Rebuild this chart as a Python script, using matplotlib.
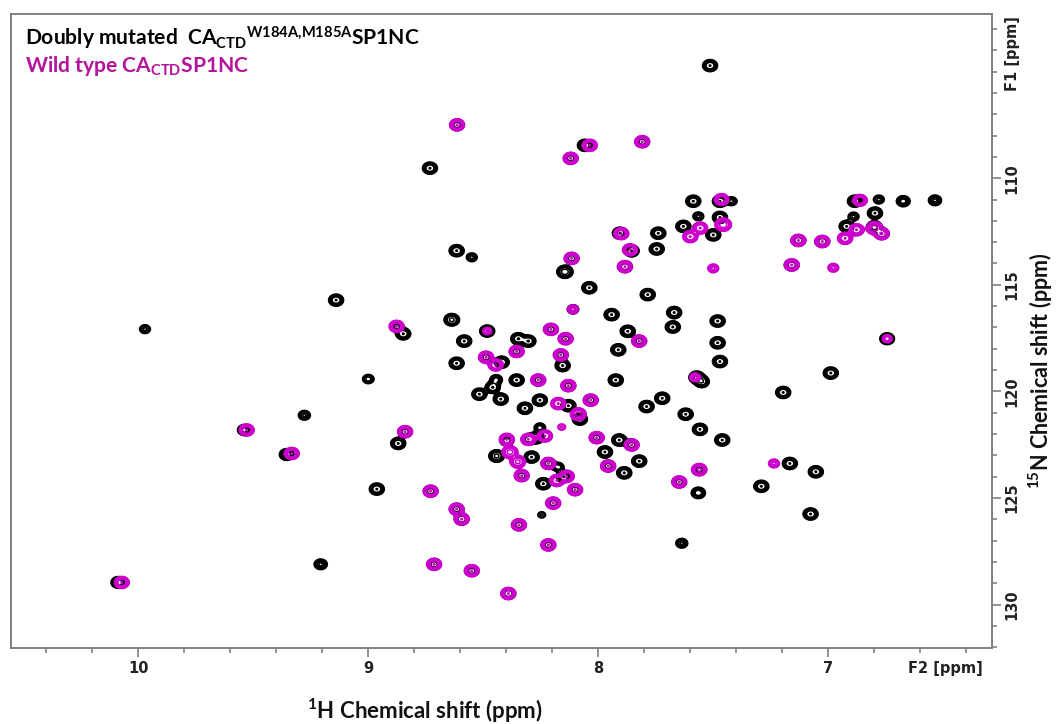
import numpy as np
import matplotlib
matplotlib.use("Agg")
import matplotlib.pyplot as plt
from matplotlib.ticker import FixedLocator

# ---- peak tables: 1H shift (ppm), 15N shift (ppm), relative intensity ----
mut_h = [7.514, 8.614, 8.058, 8.12, 7.809, 8.732, 7.587, 7.471, 7.471, 7.50,
         7.42, 7.565, 7.63, 7.739, 7.746, 7.906, 7.855, 7.884, 8.145, 8.116,
         8.616, 8.55, 8.039, 7.785, 6.884, 6.78, 6.674, 6.536, 6.797, 6.92,
         6.80, 6.768, 6.89, 7.13, 7.026, 7.159, 9.14, 8.11, 7.942, 7.67,
         8.637, 8.848, 7.872, 7.676, 8.483, 8.206, 8.142, 8.583, 8.348, 8.304,
         7.822, 8.355, 7.913, 8.488, 8.42, 8.616, 8.163, 8.155, 7.572, 7.55,
         9.0, 8.444, 8.459, 8.355, 8.261, 7.924, 8.13, 8.517, 8.424, 8.254,
         8.319, 8.13, 8.033, 8.08, 7.722, 7.79, 7.62, 9.278, 9.539, 8.84,
         8.87, 8.254, 8.007, 7.909, 7.855, 8.268, 8.398, 8.442, 8.29, 8.304,
         7.971, 7.822, 8.217, 7.957, 7.887, 8.333, 8.174, 8.15, 8.239, 8.101,
         7.648, 8.963, 8.729, 8.196, 8.616, 8.594, 8.246, 7.481, 7.481, 7.471,
         6.744, 6.989, 7.196, 7.558, 7.461, 7.561, 7.565, 7.167, 7.054, 7.291,
         7.077, 8.345, 8.217, 7.637, 8.714, 8.55, 8.391, 9.355, 9.207, 10.087,
         9.971, 8.877]
mut_n = [104.72, 107.5, 108.46, 109.07, 108.29, 109.53, 111.08, 111.08, 111.84, 112.66,
         111.08, 111.79, 112.26, 112.58, 113.32, 112.58, 113.41, 114.15, 114.39, 113.76,
         113.4, 113.71, 115.14, 115.46, 111.08, 111.0, 111.08, 111.04, 111.64, 112.26,
         112.3, 112.6, 111.8, 112.92, 112.97, 114.07, 115.72, 116.15, 116.4, 116.3,
         116.64, 117.3, 117.18, 116.98, 117.17, 117.09, 117.53, 117.64, 117.53, 117.64,
         117.64, 118.13, 118.05, 118.4, 118.63, 118.68, 118.29, 118.79, 119.34, 119.54,
         119.42, 119.45, 119.81, 119.47, 119.47, 119.47, 119.73, 120.13, 120.36, 120.41,
         120.79, 120.67, 120.41, 121.3, 120.32, 120.71, 121.07, 121.12, 121.81, 121.89,
         122.44, 121.70, 122.17, 122.28, 122.51, 122.17, 122.3, 123.03, 123.08, 122.25,
         122.84, 123.27, 123.38, 123.5, 123.82, 123.95, 123.55, 124.0, 124.33, 124.61,
         124.25, 124.58, 124.68, 125.24, 125.52, 125.99, 125.79, 116.7, 117.72, 118.6,
         117.53, 119.14, 120.05, 121.78, 122.28, 123.67, 124.76, 123.38, 123.77, 124.45,
         125.75, 126.26, 127.2, 127.12, 128.11, 128.41, 129.48, 122.96, 128.11, 128.96,
         117.08, 116.95]
mut_i = [1.0, 0.8, 1.0, 0.8, 0.8, 1.0, 1.0, 1.0, 1.0, 1.0,
         0.35, 0.35, 1.0, 1.0, 1.0, 1.0, 1.0, 0.9, 1.5, 0.8,
         1.0, 0.35, 1.0, 1.0, 1.0, 0.35, 0.7, 0.6, 1.0, 1.0,
         1.3, 1.0, 0.35, 0.9, 0.9, 0.9, 1.0, 0.4, 1.0, 1.0,
         1.2, 1.0, 1.0, 1.0, 1.0, 0.8, 0.8, 1.0, 1.0, 1.0,
         0.8, 0.8, 1.0, 0.8, 1.0, 1.0, 0.8, 1.0, 1.2, 1.0,
         0.4, 0.5, 1.0, 1.0, 0.8, 1.0, 0.8, 1.0, 1.0, 1.0,
         1.0, 1.0, 0.8, 1.0, 1.0, 1.0, 1.0, 0.45, 0.7, 0.8,
         1.0, 0.4, 0.8, 1.0, 0.8, 1.0, 0.8, 1.2, 1.0, 0.8,
         1.0, 1.0, 0.8, 0.8, 1.0, 0.8, 0.4, 1.0, 1.0, 0.8,
         0.8, 1.0, 0.8, 0.8, 0.8, 0.9, 0.2, 1.0, 1.0, 1.0,
         0.9, 1.0, 1.0, 1.0, 1.0, 0.8, 0.8, 1.0, 1.0, 1.0,
         1.0, 0.8, 0.8, 0.45, 0.8, 0.8, 0.9, 0.9, 0.6, 0.9,
         0.35, 0.7]

wt_h = [8.614, 8.037, 8.12, 7.809, 7.464, 7.457, 7.60, 7.557, 7.90, 7.862,
        7.884, 7.50, 8.116, 6.862, 6.877, 6.927, 6.80, 6.768, 7.13, 7.026,
        7.159, 6.978, 8.11, 8.877, 8.483, 8.206, 8.142, 7.822, 8.355, 8.488,
        8.446, 8.163, 7.579, 8.261, 8.13, 8.174, 8.033, 8.087, 9.529, 8.84,
        8.159, 8.007, 7.855, 8.232, 8.398, 8.384, 8.35, 8.304, 8.217, 7.957,
        8.333, 8.137, 8.101, 8.18, 7.648, 8.729, 8.196, 8.616, 8.594, 8.345,
        8.217, 8.714, 8.55, 8.391, 9.333, 10.072, 7.561, 7.236, 6.744]
wt_n = [107.5, 108.46, 109.07, 108.29, 111.0, 112.18, 112.74, 112.34, 112.6, 113.36,
        114.15, 114.23, 113.76, 111.04, 112.42, 112.82, 112.34, 112.6, 112.92, 112.97,
        114.07, 114.2, 116.15, 116.95, 117.17, 117.09, 117.53, 117.64, 118.13, 118.4,
        118.76, 118.29, 119.34, 119.47, 119.73, 120.57, 120.41, 121.07, 121.81, 121.89,
        121.67, 122.17, 122.51, 122.09, 122.25, 122.85, 123.3, 122.25, 123.38, 123.5,
        123.95, 123.98, 124.61, 124.18, 124.25, 124.68, 125.24, 125.52, 125.99, 126.26,
        127.2, 128.11, 128.41, 129.48, 122.91, 128.96, 123.67, 123.38, 117.53]
wt_i = [1.0, 1.0, 1.0, 1.0, 0.9, 1.6, 1.0, 1.0, 1.0, 1.0,
        1.0, 0.35, 1.0, 0.9, 1.0, 1.0, 1.4, 1.0, 1.0, 1.0,
        1.0, 0.35, 0.35, 1.0, 0.25, 1.0, 1.0, 1.0, 1.0, 1.0,
        1.0, 1.0, 0.35, 1.0, 1.0, 1.0, 1.0, 1.3, 1.0, 1.0,
        0.2, 1.0, 1.0, 1.0, 1.0, 1.3, 1.2, 1.0, 1.0, 1.0,
        1.0, 1.0, 1.0, 1.0, 1.0, 1.0, 1.0, 1.0, 1.0, 1.0,
        1.0, 1.0, 1.0, 1.0, 1.0, 1.0, 1.1, 0.35, 0.3]

# ---- spectral window ----
H_LIM = (10.555, 6.288)
N_LIM = (132.02, 102.3)
SIG_H, SIG_N = 0.0155, 0.135

h_axis = np.linspace(6.25, 10.6, 2000)
n_axis = np.linspace(102.0, 132.4, 1300)
dh = h_axis[1] - h_axis[0]
dn = n_axis[1] - n_axis[0]


def spectrum(hs, ns, amps):
    """Sum of 2D Gaussian lineshapes on the (N, H) grid."""
    z = np.zeros((n_axis.size, h_axis.size))
    for h, n, a in zip(hs, ns, amps):
        i0 = max(int((h - 6 * SIG_H - h_axis[0]) / dh), 0)
        i1 = min(int((h + 6 * SIG_H - h_axis[0]) / dh) + 2, h_axis.size)
        j0 = max(int((n - 6 * SIG_N - n_axis[0]) / dn), 0)
        j1 = min(int((n + 6 * SIG_N - n_axis[0]) / dn) + 2, n_axis.size)
        gx = np.exp(-0.5 * ((h_axis[i0:i1] - h) / SIG_H) ** 2)
        gy = np.exp(-0.5 * ((n_axis[j0:j1] - n) / SIG_N) ** 2)
        z[j0:j1, i0:i1] += a * np.outer(gy, gx)
    return z


z_mut = spectrum(mut_h, mut_n, mut_i)
z_wt = spectrum(wt_h, wt_n, wt_i)
levels = np.append(0.11 * 1.3 ** np.arange(7), 0.97)

plt.rcParams['mathtext.fontset'] = 'custom'
plt.rcParams['mathtext.rm'] = 'Lato:bold'
plt.rcParams['mathtext.it'] = 'Lato:bold'
plt.rcParams['mathtext.bf'] = 'Lato:bold'

W, H = 1056, 724
fig = plt.figure(figsize=(W / 100, H / 100), dpi=100)
fig.patch.set_facecolor('white')
left, right, top, bottom = 10.7, 992, 14, 647.7
ax = fig.add_axes([left / W, 1 - bottom / H, (right - left) / W, (bottom - top) / H])

ax.contour(h_axis, n_axis, z_mut, levels=levels, colors='black', linewidths=1.1, zorder=2)
ax.contour(h_axis, n_axis, z_wt, levels=levels, colors='#cc00cc', linewidths=1.1, zorder=3)

ax.set_xlim(*H_LIM)
ax.set_ylim(*N_LIM)

frame_col = '#808080'
for s in ax.spines.values():
    s.set_color(frame_col)
    s.set_linewidth(1.4)

ax.xaxis.set_major_locator(FixedLocator([10, 9, 8, 7]))
ax.xaxis.set_minor_locator(FixedLocator(np.round(np.arange(6.4, 10.41, 0.2), 1)))
ax.yaxis.set_major_locator(FixedLocator([110, 115, 120, 125, 130]))
ax.yaxis.set_minor_locator(FixedLocator(np.arange(103, 133, 1)))
ax.yaxis.tick_right()
ax.tick_params(which='both', direction='out', color=frame_col, width=1.2)
ax.tick_params(which='major', length=6.5)
ax.tick_params(which='minor', length=3.5)
ax.tick_params(axis='x', which='major', pad=3)
ax.tick_params(axis='y', which='major', pad=2.5)
ax.set_xticklabels(['10', '9', '8', '7'], fontsize=10.5, fontweight='bold', color='#222222')
ax.set_yticklabels(['110', '115', '120', '125', '130'], fontsize=10.5, fontweight='bold',
                   color='#222222', rotation=90, va='center')

fig.text(945 / W, 1 - 668 / H, 'F2 [ppm]', fontsize=10.5, fontweight='bold',
         color='#222222', ha='center', va='center')
fig.text(1012 / W, 1 - 54 / H, 'F1 [ppm]', fontsize=10.5, fontweight='bold',
         color='#222222', ha='center', va='center', rotation=90)

fig.text(425 / W, 1 - 711 / H, r'$^{1}$H Chemical shift (ppm)', family='Lato',
         fontweight='bold', fontsize=16, ha='center', va='center', color='#111111')
fig.text(1041 / W, 1 - 371 / H, r'$^{15}$N Chemical shift (ppm)', family='Lato',
         fontweight='bold', fontsize=15.5, ha='center', va='center', rotation=90, color='#111111')

fig.text(25 / W, 1 - 45 / H,
         r'Doubly mutated  CA$_{\mathrm{CTD}}$$^{\mathrm{W184A{,}M185A}}$SP1NC',
         family='Lato', fontweight='bold', fontsize=15.1, ha='left', va='baseline', color='black')
fig.text(25 / W, 1 - 72 / H, r'Wild type CA$_{\mathrm{CTD}}$SP1NC',
         family='Lato', fontweight='bold', fontsize=15.1, ha='left', va='baseline', color='#b4149c')

fig.savefig('out.png', dpi=100, facecolor='white')
